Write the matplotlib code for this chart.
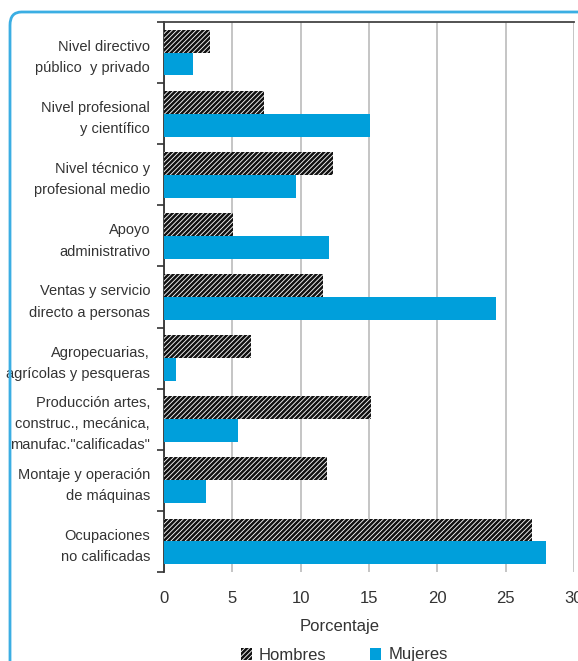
import matplotlib
matplotlib.use("Agg")
import matplotlib.pyplot as plt
from matplotlib.patches import FancyBboxPatch, Patch
import numpy as np

plt.rcParams['font.family'] = ['Liberation Sans', 'DejaVu Sans']
plt.rcParams['hatch.linewidth'] = 1.8

categories = [
    "Nivel directivo\npúblico  y privado",
    "Nivel profesional\ny científico",
    "Nivel técnico y\nprofesional medio",
    "Apoyo\nadministrativo",
    "Ventas y servicio\ndirecto a personas",
    "Agropecuarias,\nagrícolas y pesqueras",
    "Producción artes,\nconstruc., mecánica,\nmanufac.\"calificadas\"",
    "Montaje y operación\nde máquinas",
    "Ocupaciones\nno calificadas",
]
hombres = [3.35, 7.3, 12.4, 5.05, 11.6, 6.35, 15.15, 11.9, 26.9]
mujeres = [2.1, 15.1, 9.65, 12.1, 24.3, 0.9, 5.4, 3.1, 27.95]
xticks = [0, 5, 10, 15, 20, 25, 30]

blue = "#009FDB"
text_c = "#333333"

fig = plt.figure(figsize=(5.78, 6.61), dpi=100)
W, H = 578, 661
ax = fig.add_axes([164 / W, 1 - 572 / H, (574 - 164) / W, (572 - 22) / H])

# rounded frame
frame = FancyBboxPatch((10 / W, -0.1), 1.2, (H - 12) / H + 0.1,
                       boxstyle="round,pad=0,rounding_size=0.02",
                       transform=fig.transFigure, fill=False,
                       edgecolor="#3BAEE3", linewidth=2.0, zorder=0)
fig.patches.append(frame)

y = np.arange(len(categories))
h = 0.375
ax.barh(y - h / 2, hombres, height=h, facecolor="white", edgecolor="#111111",
        hatch="///////", linewidth=0, label="Hombres", zorder=3)
ax.barh(y + h / 2, mujeres, height=h, color=blue, linewidth=0,
        label="Mujeres", zorder=3)

ax.set_xlim(0, 30)
ax.set_ylim(len(categories) - 0.5, -0.5)
ax.set_xticks(xticks)
ax.set_xticklabels([str(v) for v in xticks], fontsize=12, color=text_c)
ax.tick_params(axis='x', length=0, pad=14)
ax.set_yticks(y)
ax.set_yticklabels(categories, fontsize=10.5, color=text_c, linespacing=1.65)
ax.tick_params(axis='y', which='major', length=0, pad=10)
ax.set_yticks(np.arange(-0.5, len(categories), 1), minor=True)
ax.tick_params(axis='y', which='minor', length=5, width=1.2, color="#333333", direction='out')

ax.grid(axis='x', color="#BBBBBB", linewidth=1.2, zorder=0)
ax.set_axisbelow(True)
for s in ['right', 'bottom']:
    ax.spines[s].set_visible(False)
ax.spines['left'].set_color("#333333")
ax.spines['left'].set_linewidth(1.3)
ax.spines['top'].set_color("#444444")
ax.spines['top'].set_linewidth(1.3)

ax.set_xlabel("Porcentaje", fontsize=12, color=text_c, labelpad=9, x=(340 - 164) / 410)

handles = [Patch(facecolor="white", edgecolor="#111111", hatch="///////", linewidth=0),
           Patch(facecolor=blue, linewidth=0)]
fig.legend(handles, ["Hombres", "Mujeres"], loc="center", bbox_to_anchor=(344 / W, 1 - 655 / H),
           ncol=2, frameon=False, fontsize=12, handlelength=0.7, handleheight=0.7,
           handletextpad=0.4, columnspacing=2.6, labelcolor=text_c)

fig.savefig("out.png", dpi=100)
